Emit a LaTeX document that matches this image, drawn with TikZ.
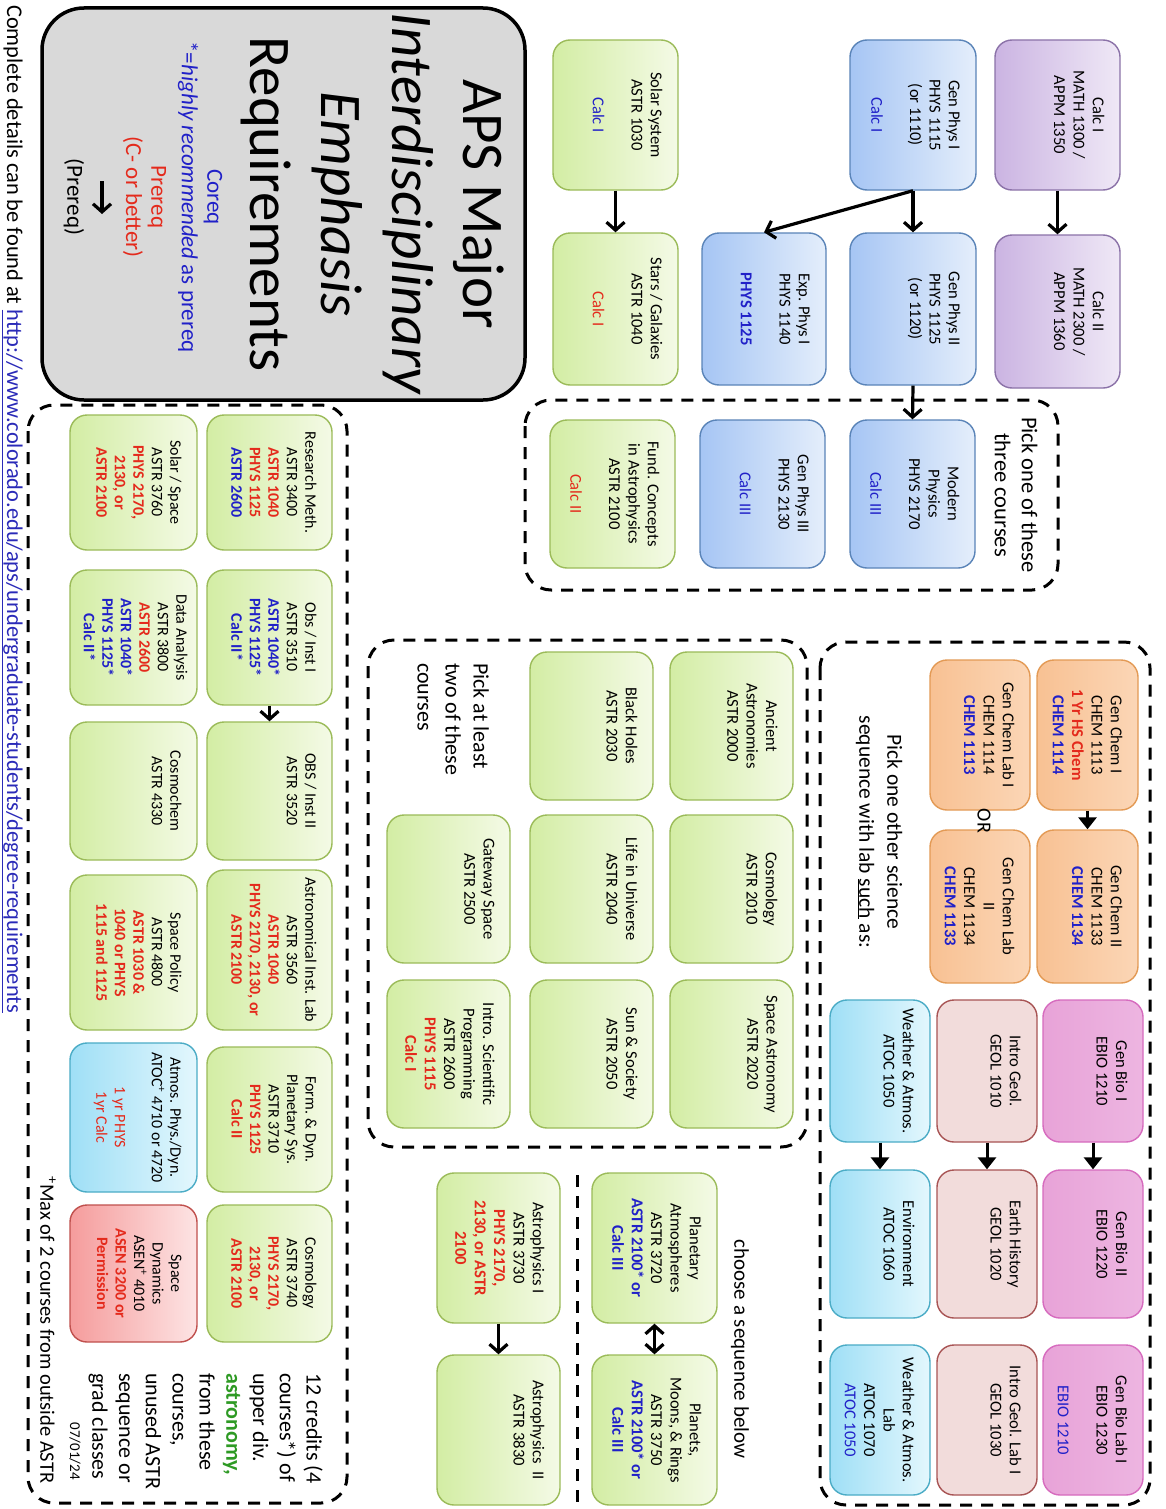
\documentclass[tikz,border=0pt]{standalone}
\usepackage{fontspec}
\setmainfont{Carlito}
\usetikzlibrary{arrows.meta}
\definecolor{grnB}{HTML}{9BBB59}
\definecolor{grnD}{HTML}{D3EDA4}
\definecolor{grnL}{HTML}{F4FAE6}
\definecolor{bluB}{HTML}{5A84B8}
\definecolor{bluD}{HTML}{A6C5F4}
\definecolor{bluL}{HTML}{E4EEFB}
\definecolor{purB}{HTML}{8B72A8}
\definecolor{purD}{HTML}{CBB4E2}
\definecolor{purL}{HTML}{EFE8F6}
\definecolor{orgB}{HTML}{E39A55}
\definecolor{orgD}{HTML}{F8C193}
\definecolor{orgL}{HTML}{FBD6B6}
\definecolor{pnkB}{HTML}{D66BBE}
\definecolor{pnkD}{HTML}{E8A3D8}
\definecolor{pnkL}{HTML}{EDB5E1}
\definecolor{geoB}{HTML}{A85454}
\definecolor{geoF}{HTML}{F2DCDB}
\definecolor{cyaB}{HTML}{4BACC6}
\definecolor{cyaD}{HTML}{9FDFF6}
\definecolor{cyaL}{HTML}{E3F7FD}
\definecolor{redB}{HTML}{C0504D}
\definecolor{redD}{HTML}{F59C9C}
\definecolor{redL}{HTML}{FDE4E4}
\definecolor{tred}{HTML}{E42A1C}
\definecolor{tblue}{HTML}{2020C8}
\definecolor{tgreen}{HTML}{2E9A24}
\definecolor{tlink}{HTML}{2A2AB8}
\definecolor{ttlgray}{HTML}{D9D9D9}
\newcommand{\prq}[1]{{\color{tred}\bfseries #1}}
\newcommand{\prqn}[1]{{\color{tred}#1}}
\newcommand{\crq}[1]{{\color{tblue}\bfseries #1}}
\newcommand{\crqn}[1]{{\color{tblue}#1}}
\def\crspad{16pt}
% #1 text style, #2 name, #3 x left, #4 x right, #5 y top, #6 y bottom, #7 box style, #8 text
\newcommand{\crsbox}[8][txt]{%
  \node[#7, minimum width={#4-#3}, minimum height={#6-#5}] (#2) at ({(#3+#4)/2},{(#5+#6)/2}) {};
  \node[#1] (#2-t) at ([xshift=-\crspad]#2.east) {#8};}
\tikzset{
  crs/.style={draw, line width=1.4pt, rounded corners=17pt, inner sep=0pt},
  bxgrn/.style={crs, draw=grnB, left color=grnD, right color=grnL},
  bxblu/.style={crs, draw=bluB, left color=bluD, right color=bluL},
  bxpur/.style={crs, draw=purB, left color=purD, right color=purL},
  bxorg/.style={crs, draw=orgB, left color=orgD, right color=orgL},
  bxpnk/.style={crs, draw=pnkB, left color=pnkD, right color=pnkL},
  bxgeo/.style={crs, draw=geoB, fill=geoF},
  bxcya/.style={crs, draw=cyaB, left color=cyaD, right color=cyaL},
  bxred/.style={crs, draw=redB, left color=redD, right color=redL},
  txt/.style={rotate=-90, anchor=north, align=center, inner sep=0pt, font=\fontsize{16.6}{19.4}\selectfont},
  txtL/.style={txt, font=\fontsize{16}{18.5}\selectfont},
  lbl/.style={rotate=-90, align=center, inner sep=0pt},
  conn/.style={line width=3.2pt, -{Straight Barb[length=8pt,width=18pt]}},
  connb/.style={line width=3.2pt, {Straight Barb[length=8pt,width=18pt]}-{Straight Barb[length=8pt,width=18pt]}},
  connf/.style={line width=3pt, -{Triangle[length=12pt,width=18pt]}},
  dbox/.style={line width=3pt, dash pattern=on 12pt off 9pt, rounded corners=26pt},
  ttl/.style={draw, line width=3.5pt, fill=ttlgray, rounded corners=42pt, inner sep=0pt},
}
\begin{document}
\begin{tikzpicture}[x=1pt, y=-1pt]
\useasboundingbox (0,0) rectangle (1165,1509);
\fill[white] (0,0) rectangle (1165,1509);

% ---------- title box ----------
\node[ttl, minimum width=483, minimum height=392] (ttlbox) at (283.5,204) {};
\node[lbl, font=\fontsize{59}{71}\selectfont] (ttltext) at (373,204) {APS Major\\\textit{Interdisciplinary}\\\textit{Emphasis}\\Requirements};
\node[lbl, font=\fontsize{23}{27}\selectfont, text=tblue] (legCo) at (213,197) {Coreq};
\node[lbl, font=\fontsize{23}{27}\selectfont, text=tblue] (legHr) at (188,197) {*=\textit{highly recommended} as prereq};
\node[lbl, font=\fontsize{23}{27}\selectfont, text=tred] (legPr) at (157,197) {Prereq};
\node[lbl, font=\fontsize{23}{27}\selectfont, text=tred] (legCb) at (133,197) {(C- or better)};
\coordinate (legA) at (102,181);
\coordinate (legB) at (102,214);
\draw[conn] (legA) -- (legB);
\node[lbl, font=\fontsize{23}{27}\selectfont] (legP) at (74,197) {(Prereq)};

% ---------- footer text ----------
\node[lbl, anchor=west, font=\fontsize{22.4}{26}\selectfont] (url) at (12,5) {Complete details can be found at \textcolor{tlink}{\underline{http://www.colorado.edu/aps/undergraduate-students/degree-requirements}}};

% ---------- core sequence ----------
\crsbox{calcI}{995}{1120}{40}{190}{bxpur}{Calc I\\MATH 1300 /\\APPM 1350}
\crsbox{calcII}{995}{1120}{235}{388}{bxpur}{Calc II\\MATH 2300 /\\APPM 1360}
\crsbox{gpI}{850}{976}{40}{190}{bxblu}{Gen Phys I\\PHYS 1115\\(or 1110)\\~\\\crqn{Calc I}}
\crsbox{gpII}{850}{976}{233}{385}{bxblu}{Gen Phys II\\PHYS 1125\\(or 1120)}
\crsbox{expI}{702}{826}{233}{385}{bxblu}{Exp. Phys I\\PHYS 1140\\~\\\crq{PHYS 1125}}
\crsbox{solar}{553}{678}{40}{190}{bxgrn}{Solar System\\ASTR 1030\\~\\\crqn{Calc I}}
\crsbox{stars}{553}{678}{233}{385}{bxgrn}{Stars / Galaxies\\ASTR 1040\\~\\\prqn{Calc I}}

\draw[dbox] (525,400) rectangle (1058,590);
\node[lbl, font=\fontsize{22.5}{27}\selectfont] (pick3) at (1016,495) {Pick one of these\\three courses};
\crsbox{modern}{850}{975}{420}{568}{bxblu}{Modern\\Physics\\PHYS 2170\\~\\\crqn{Calc III}}
\crsbox{gpIII}{700}{825}{420}{568}{bxblu}{Gen Phys III\\PHYS 2130\\~\\\crqn{Calc III}}
\crsbox{fund}{550}{675}{420}{568}{bxgrn}{Fund. Concepts\\in Astrophysics\\ASTR 2100\\~\\\prqn{Calc II}}

\draw[conn] (calcI.south) -- (calcII.north);
\draw[conn] (gpI.south) -- (gpII.north);
\draw[conn] (gpI.south) -- (expI.north);
\draw[conn] (solar.south) -- (stars.north);
\draw[conn] (gpII.south) -- (modern.north);

% ---------- other science ----------
\draw[dbox] (820,642) rectangle (1150,1505);
\node[lbl, font=\fontsize{21.5}{28}\selectfont] (pickSci) at (879,832) {Pick one other science\\sequence with lab \underline{such} as:};
\crsbox{chemI}{1037}{1138}{660}{810}{bxorg}{Gen Chem I\\CHEM 1113\\\prq{1 Yr HS Chem}\\\crq{CHEM 1114}}
\crsbox{chemII}{1037}{1138}{830}{983}{bxorg}{Gen Chem II\\CHEM 1133\\\crq{CHEM 1134}}
\crsbox{chemLI}{930}{1030}{660}{810}{bxorg}{Gen Chem Lab I\\CHEM 1114\\\crq{CHEM 1113}}
\crsbox{chemLII}{930}{1030}{830}{983}{bxorg}{Gen Chem Lab\\II\\CHEM 1134\\\crq{CHEM 1133}}
\node[lbl, font=\fontsize{20}{24}\selectfont] (orword) at (984,821) {OR};
\draw[connf] (chemI.south) -- (chemII.north);

\crsbox{bioI}{1043}{1143}{1000}{1142}{bxpnk}{Gen Bio I\\EBIO 1210}
\crsbox{bioII}{1043}{1143}{1170}{1318}{bxpnk}{Gen Bio II\\EBIO 1220}
\crsbox{bioL}{1043}{1143}{1345}{1495}{bxpnk}{Gen Bio Lab I\\EBIO 1230\\~\\\crqn{EBIO 1210}}
\crsbox{geoI}{937}{1037}{1000}{1142}{bxgeo}{Intro Geol.\\GEOL 1010}
\crsbox{geoII}{937}{1037}{1170}{1318}{bxgeo}{Earth History\\GEOL 1020}
\crsbox{geoL}{937}{1037}{1345}{1495}{bxgeo}{Intro Geol. Lab I\\GEOL 1030}
\crsbox{atI}{830}{930}{1000}{1142}{bxcya}{Weather \& Atmos.\\ATOC 1050}
\crsbox{atII}{830}{930}{1170}{1318}{bxcya}{Environment\\ATOC 1060}
\crsbox{atL}{830}{930}{1345}{1495}{bxcya}{Weather \& Atmos.\\Lab\\ATOC 1070\\\crqn{ATOC 1050}}
\draw[connf] (bioI.south) -- (bioII.north);
\draw[connf] (geoI.south) -- (geoII.north);
\draw[connf] (atI.south) -- (atII.north);

% ---------- pick two ----------
\draw[dbox] (368,640) rectangle (807,1147);
\node[lbl, anchor=north west, align=left, font=\fontsize{22}{28}\selectfont] (pick2) at (489,663) {Pick at least\\two of these\\courses};
\crsbox{anc}{670}{793}{652}{800}{bxgrn}{Ancient\\Astronomies\\ASTR 2000}
\crsbox{cosA}{670}{793}{815}{963}{bxgrn}{Cosmology\\ASTR 2010}
\crsbox{spa}{670}{793}{980}{1128}{bxgrn}{Space Astronomy\\ASTR 2020}
\crsbox{bh}{530}{653}{652}{800}{bxgrn}{Black Holes\\ASTR 2030}
\crsbox{life}{530}{653}{815}{963}{bxgrn}{Life in Universe\\ASTR 2040}
\crsbox{sun}{530}{653}{980}{1128}{bxgrn}{Sun \& Society\\ASTR 2050}
\crsbox{gate}{387}{510}{815}{963}{bxgrn}{Gateway Space\\ASTR 2500}
\crsbox{prog}{387}{510}{980}{1128}{bxgrn}{Intro. Scientific\\Programming\\ASTR 2600\\\prq{PHYS 1115}\\\prq{Calc I}}

% ---------- sequences ----------
\node[lbl, font=\fontsize{21}{25}\selectfont] (chooseSeq) at (740,1349) {choose a sequence below};
\crsbox{patm}{592}{717}{1173}{1323}{bxgrn}{Planetary\\Atmospheres\\ASTR 3720\\\crq{ASTR 2100* or}\\\crq{Calc III}}
\crsbox{pmr}{592}{717}{1355}{1505}{bxgrn}{Planets,\\Moons, \& Rings\\ASTR 3750\\\crq{ASTR 2100* or}\\\crq{Calc III}}
\crsbox{apI}{437}{560}{1173}{1323}{bxgrn}{Astrophysics I\\ASTR 3730\\\prq{PHYS 2170,}\\\prq{2130, or ASTR}\\\prq{2100}}
\crsbox{apII}{437}{560}{1355}{1505}{bxgrn}{Astrophysics\ \ II\\ASTR 3830}
\draw[connb] (patm.south) -- (pmr.north);
\draw[conn] (apI.south) -- (apII.north);
\coordinate (sepT) at (577,1175);
\coordinate (sepB) at (577,1505);
\draw[line width=3pt, dash pattern=on 12pt off 9pt] (sepT) -- (sepB);

% ---------- upper division ----------
\draw[dbox] (28,405) rectangle (347,1503);
\crsbox[txtL]{rm}{207}{332}{415}{550}{bxgrn}{Research Meth.\\ASTR 3400\\\prq{ASTR 1040}\\\prq{PHYS 1125}\\\crq{ASTR 2600}}
\crsbox[txtL]{ss}{70}{197}{415}{550}{bxgrn}{Solar / Space\\ASTR 3760\\\prq{PHYS 2170,}\\\prq{2130, or}\\\prq{ASTR 2100}}
\crsbox[txtL]{obsI}{207}{332}{570}{705}{bxgrn}{Obs / Inst I\\ASTR 3510\\\crq{ASTR 1040*}\\\crq{PHYS 1125*}\\\crq{Calc II*}}
\def\crspad{10pt}
\crsbox[txtL]{da}{70}{197}{570}{705}{bxgrn}{Data Analysis\\ASTR 3800\\\prq{ASTR 2600}\\\crq{ASTR 1040*}\\\crq{PHYS 1125*}\\\crq{Calc II*}}
\def\crspad{16pt}
\crsbox[txtL]{obsII}{207}{332}{722}{860}{bxgrn}{OBS / Inst II\\ASTR 3520}
\crsbox[txtL]{cchem}{70}{197}{722}{860}{bxgrn}{Cosmochem\\ASTR 4330}
\crsbox[txtL]{ail}{207}{332}{870}{1030}{bxgrn}{Astronomical Inst. Lab\\ASTR 3560\\\prq{ASTR 1040}\\\prq{PHYS 2170, 2130, or}\\\prq{ASTR 2100}}
\crsbox[txtL]{spol}{70}{197}{875}{1030}{bxgrn}{Space Policy\\ASTR 4800\\\prq{ASTR 1030 \&}\\\prq{1040 or PHYS}\\\prq{1115 and 1125}}
\crsbox[txtL]{fd}{207}{332}{1047}{1192}{bxgrn}{Form. \& Dyn.\\Planetary Sys.\\ASTR 3710\\\prq{PHYS 1125}\\\prq{Calc II}}
\crsbox[txtL]{atm}{70}{197}{1043}{1192}{bxcya}{Atmos. Phys./Dyn.\\ATOC\textsuperscript{+} 4710 or 4720\\~\\\prqn{1 yr PHYS}\\\prqn{1yr Calc}}
\crsbox[txtL]{cosB}{207}{332}{1205}{1342}{bxgrn}{Cosmology\\ASTR 3740\\\prq{PHYS 2170,}\\\prq{2130, or}\\\prq{ASTR 2100}}
\crsbox[txtL]{sdyn}{70}{197}{1205}{1342}{bxred}{Space\\Dynamics\\ASEN\textsuperscript{+} 4010\\\prq{ASEN 3200 or}\\\prq{Permission}}
\draw[conn] (obsI.south) -- (obsII.north);

\node[lbl, anchor=north west, align=left, font=\fontsize{22}{26.8}\selectfont] (credits) at (323,1373) {12 credits (4\\courses*) of\\upper div.\\\textcolor{tgreen}{\bfseries astronomy,}\\from these\\courses,\\unused ASTR\\sequence or\\grad classes};
\node[lbl, font=\fontsize{20.5}{24}\selectfont] (maxnote) at (48,1330) {\textsuperscript{+}Max of 2 courses from outside ASTR};
\node[lbl, anchor=east, font=\fontsize{15}{18}\selectfont] (datestamp) at (75,1480) {07/01/24};
\end{tikzpicture}
\end{document}
